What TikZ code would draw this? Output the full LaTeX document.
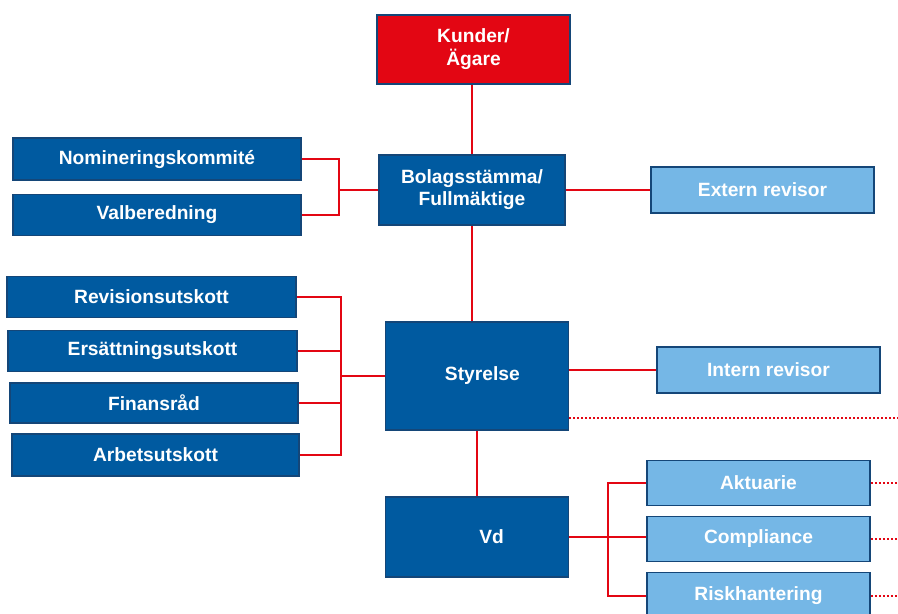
\documentclass[tikz,border=0pt]{standalone}
\usepackage{fontspec}
\setmainfont{Liberation Sans}
\definecolor{dblue}{RGB}{0,90,160}
\definecolor{lblue}{RGB}{117,183,230}
\definecolor{bord}{RGB}{20,70,120}
\definecolor{kred}{RGB}{227,6,19}
\begin{document}
\begin{tikzpicture}[x=0.75pt,y=-0.75pt,
  box/.style={draw=bord,line width=1.2pt,text=white,font=\fontsize{14.4}{17}\selectfont\bfseries,align=center,inner sep=0pt},
  darkbox/.style={box,fill=dblue},
  lightbox/.style={box,fill=lblue},
  redbox/.style={box,fill=kred},
  conn/.style={draw=kred,line width=1.5pt},
  dots/.style={draw=kred,line width=1.5pt,dash pattern=on 1.5pt off 1.5pt}]
\useasboundingbox (0,0) rectangle (898,613);
\clip (0,0) rectangle (898,613);
\node[redbox,minimum width=144.75pt,minimum height=51.75pt] (kund) at (473.5,49.5) {\raisebox{3pt}{\begin{tabular}{@{}c@{}}Kunder/\\Ägare\end{tabular}}};
\node[darkbox,minimum width=139.5pt,minimum height=52.5pt] (bolag) at (472,190) {\raisebox{2pt}{\begin{tabular}{@{}c@{}}Bolagsstämma/\\Fullmäktige\end{tabular}}};
\node[darkbox,minimum width=216pt,minimum height=31.5pt] (nom) at (157,159) {Nomineringskommité};
\node[darkbox,minimum width=216pt,minimum height=30.75pt] (val) at (157,215) {Valberedning};
\node[lightbox,minimum width=167.25pt,minimum height=34.5pt] (ext) at (762.5,190) {Extern revisor};
\node[darkbox,minimum width=216.75pt,minimum height=30.75pt] (rev) at (151.5,297) {Revisionsutskott};
\node[darkbox,minimum width=216.75pt,minimum height=30.75pt] (ers) at (152.5,351) {Ersättningsutskott};
\node[darkbox,minimum width=216pt,minimum height=30pt] (fin) at (154,403) {Finansråd};
\node[darkbox,minimum width=215.25pt,minimum height=31.5pt] (arb) at (155.5,455) {Arbetsutskott};
\node[darkbox,minimum width=137.25pt,minimum height=81pt] (sty) at (477,376) {\hspace*{8pt}Styrelse};
\node[lightbox,minimum width=167.25pt,minimum height=34.5pt] (int) at (768.5,370) {Intern revisor};
\node[darkbox,minimum width=137.25pt,minimum height=60pt] (vd) at (477,537) {\hspace*{22pt}Vd};
\node[lightbox,minimum width=167.25pt,minimum height=33.75pt] (akt) at (758.5,483) {Aktuarie};
\node[lightbox,minimum width=167.25pt,minimum height=33.75pt] (comp) at (758.5,539) {Compliance};
\node[lightbox,minimum width=167.25pt,minimum height=35.25pt] (risk) at (758.5,596) {Riskhantering};
\coordinate (jb) at (339,190);
\coordinate (js) at (341,376);
\coordinate (jv) at (608,537);
\coordinate (d1) at (898,418);
\coordinate (rb) at (898,0);
% connectors
\draw[conn] (bolag.north) -- (bolag.north |- kund.south);
\draw[conn] (bolag.south) -- (bolag.south |- sty.north);
\draw[conn] (sty.south) -- (vd.north);
\draw[conn] (nom.east) -| (jb);
\draw[conn] (val.east) -| (jb);
\draw[conn] (jb) -- (bolag.west);
\draw[conn] (bolag.east) -- (ext.west);
\draw[conn] (rev.east) -| (js);
\draw[conn] (ers.east) -| (js);
\draw[conn] (fin.east) -| (js);
\draw[conn] (arb.east) -| (js);
\draw[conn] (js) -- (js -| sty.west);
\draw[conn] (int.west) -- (int.west -| sty.east);
\draw[dots] (sty.east |- d1) -- (d1);
\draw[conn] (vd.east) -- (jv);
\draw[conn] (akt.west) -| (jv);
\draw[conn] (risk.west) -| (jv);
\draw[conn] (jv) -- (jv -| comp.west);
\draw[dots] (akt.east) -- (akt.east -| rb);
\draw[dots] (comp.east) -- (comp.east -| rb);
\draw[dots] (risk.east) -- (risk.east -| rb);
\end{tikzpicture}
\end{document}
